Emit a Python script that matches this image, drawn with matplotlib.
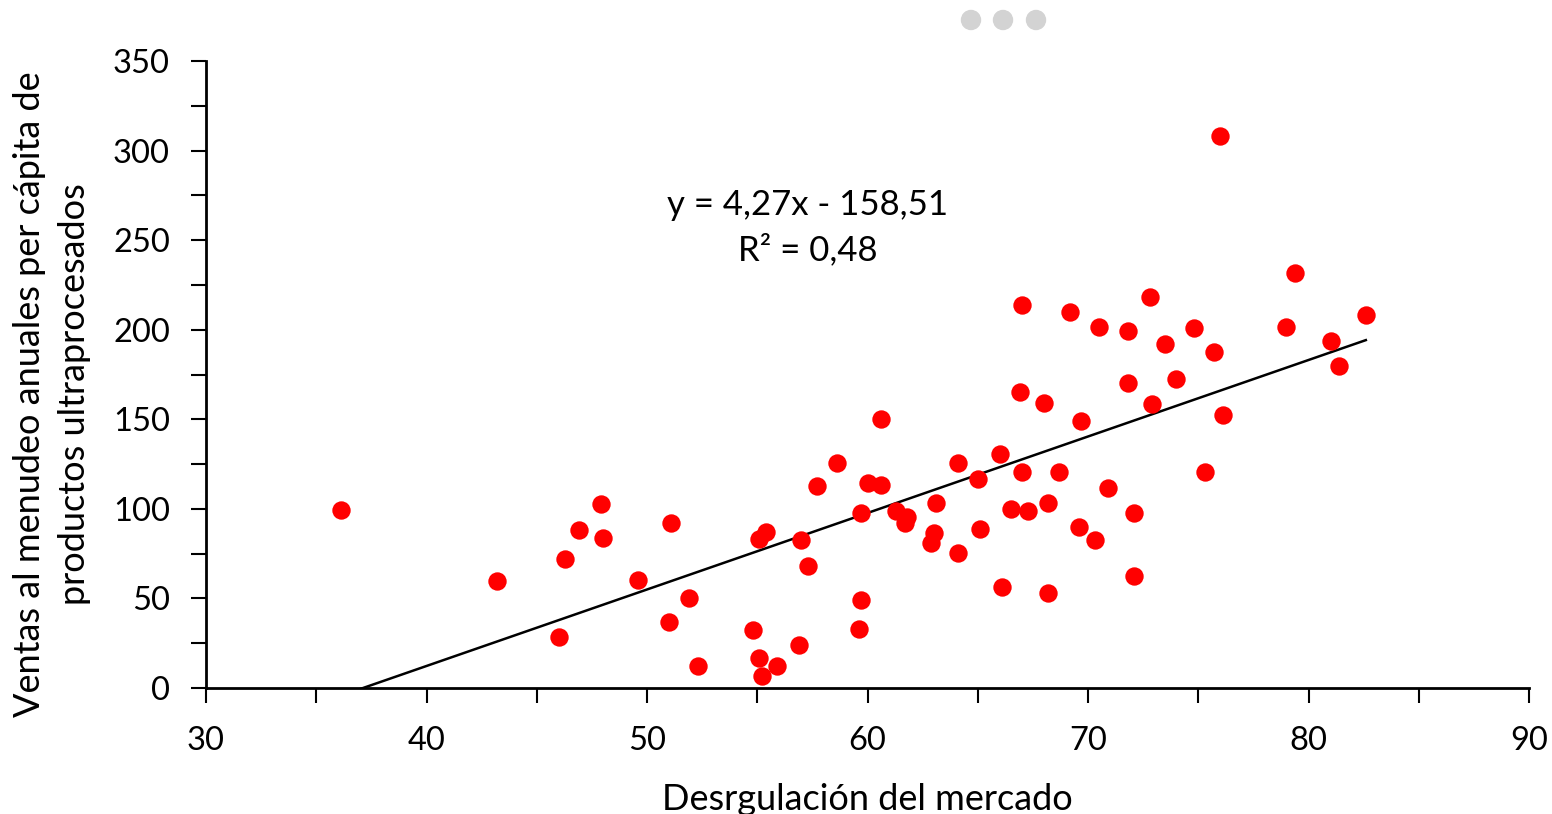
import matplotlib.pyplot as plt
import numpy as np
from matplotlib.patches import Ellipse

# market deregulation (x) vs annual per-capita retail sales of ultra-processed products (y)
desregulacion = [36.1, 43.2, 46.0, 46.3, 46.9, 47.9, 48.0, 49.6, 51.0, 51.1,
                 51.9, 52.3, 54.8, 55.1, 55.1, 55.2, 55.4, 55.9, 56.9, 57.0,
                 57.3, 57.7, 58.6, 59.6, 59.7, 59.7, 60.0, 60.6, 60.6, 61.3,
                 61.8, 61.7, 63.0, 62.9, 63.1, 64.1, 64.1, 65.0, 65.1, 66.0,
                 66.1, 66.5, 67.0, 67.3, 68.2, 68.2, 68.7, 69.6, 70.3, 70.9,
                 72.1, 72.1, 66.9, 68.0, 69.7, 71.8, 76.0, 79.4, 67.0, 69.2,
                 72.8, 70.5, 71.8, 74.8, 73.5, 75.7, 79.0, 82.6, 81.0, 81.4,
                 74.0, 72.9, 76.1, 75.3]
ventas = [99.4, 59.7, 28.5, 72.0, 88.2, 102.7, 83.7, 60.3, 36.8, 92.1,
          50.2, 12.3, 32.4, 83.2, 16.7, 6.7, 87.1, 12.3, 24.0, 82.6,
          68.1, 112.8, 125.6, 32.9, 49.1, 97.7, 114.4, 150.2, 113.3, 98.8,
          95.5, 92.1, 86.3, 80.8, 103.1, 125.4, 75.2, 116.5, 88.8, 130.6,
          56.2, 99.9, 120.4, 99.0, 103.1, 52.9, 120.4, 90.0, 82.6, 111.8,
          97.9, 62.5, 165.1, 159.3, 149.2, 170.4, 308.3, 231.5, 213.8, 209.9,
          218.4, 201.3, 199.1, 201.0, 192.2, 187.6, 201.7, 208.2, 193.9, 179.9,
          172.5, 158.5, 152.2, 120.6]

# linear trend reported on the chart
pendiente = 4.27
intercepto = -158.51
r2 = 0.48

x_ticks = [30, 40, 50, 60, 70, 80, 90]
y_ticks = [0, 50, 100, 150, 200, 250, 300, 350]

plt.rcParams['font.family'] = ['Lato', 'DejaVu Sans']

fig = plt.figure(figsize=(15.52, 8.14), dpi=100)
ax = fig.add_axes([206 / 1552, 126 / 814, 1323 / 1552, 627 / 814])

ax.scatter(desregulacion, ventas, s=175, color='#ff0000', zorder=3, linewidths=0)

xs = np.array([min(desregulacion), max(desregulacion)])
ax.plot(xs, pendiente * xs + intercepto, color='black', lw=1.8, zorder=2)

ax.set_xlim(30, 90)
ax.set_ylim(0, 350)
ax.set_xticks(x_ticks)
ax.set_xticks(np.arange(35, 90, 10), minor=True)
ax.set_yticks(y_ticks)
ax.set_yticks(np.arange(25, 350, 50), minor=True)
ax.tick_params(axis='both', which='both', direction='out', length=11, width=1.5,
               color='black', labelsize=23.5)
ax.tick_params(axis='x', which='major', pad=16)
ax.tick_params(axis='y', which='major', pad=15)

for s in ['top', 'right']:
    ax.spines[s].set_visible(False)
for s in ['left', 'bottom']:
    ax.spines[s].set_linewidth(2)

ax.set_xlabel('Desrgulación del mercado', fontsize=26, labelpad=20)
ax.set_ylabel('Ventas al menudeo anuales per cápita de\nproductos ultraprocesados',
              fontsize=26, labelpad=16, linespacing=1.45)
ax.yaxis.label.set_y(0.468)

ax.text(57.3, 257, 'y = {:.2f}x - {:.2f}\nR² = {:.2f}'.format(pendiente, -intercepto, r2).replace('.', ','),
        fontsize=25, ha='center', va='center', linespacing=1.45)

# the three grey dots at the top
for px in [971, 1003, 1036]:
    fig.add_artist(Ellipse((px / 1552, 1 - 20 / 814), 19 / 1552, 19 / 814,
                           color='#d3d3d3', transform=fig.transFigure))

fig.savefig('out.png', dpi=100)
